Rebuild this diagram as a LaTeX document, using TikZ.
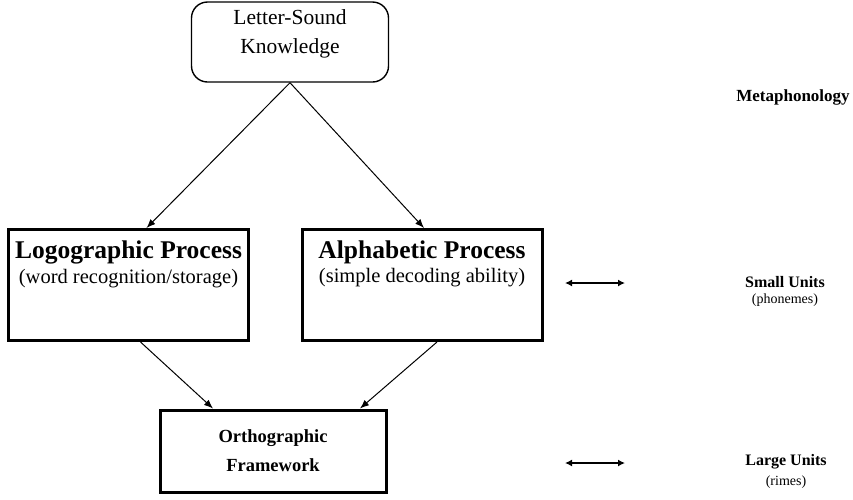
\documentclass[tikz,border=0pt]{standalone}
\usepackage{fontspec}
\setmainfont{Liberation Serif}
\usetikzlibrary{arrows.meta,positioning}
\begin{document}
\begin{tikzpicture}[x=1pt,y=-1pt,
    procbox/.style={draw, line width=3pt, minimum width=240pt, minimum height=111pt, inner sep=0pt},
    ttl/.style={font=\fontsize{25.5}{27}\selectfont\bfseries, inner sep=0pt},
    sub/.style={font=\fontsize{20.5}{22}\selectfont, inner sep=0pt},
    side/.style={font=\fontsize{16}{18}\selectfont\bfseries, inner sep=0pt},
    sidesub/.style={font=\fontsize{14}{16}\selectfont, inner sep=0pt},
    link/.style={line width=1pt, -{Latex[length=9pt,width=7pt]}},
    both/.style={line width=1.4pt, {Latex[length=7pt,width=7pt]}-{Latex[length=7pt,width=7pt]}}]
  \useasboundingbox (0,0) rectangle (853,499);
  %%% top of the diagram
  \node[draw, line width=1.4pt, rounded corners=16pt, minimum width=197pt, minimum height=80pt] (lsk) at (290,42) {};
  \node[align=center, inner sep=0pt, font=\fontsize{21.5}{29}\selectfont] (lskt) at (290,34) {Letter-Sound\\Knowledge};
  %%% the two processes
  \node[procbox] (logo) at (128.5,285) {};
  \node[ttl, below=13pt of logo.north] (logot) {Logographic Process};
  \node[sub, below=4pt of logot] (logos) {(word recognition/storage)};
  \node[procbox] (alpha) at (422,285) {};
  \node[ttl, below=13pt of alpha.north] (alphat) {Alphabetic Process};
  \node[sub, below=4pt of alphat] (alphas) {(simple decoding ability)};
  %%% bottom box
  \node[draw, line width=3pt, minimum width=226pt, minimum height=82pt, align=center,
        font=\fontsize{18.5}{29}\selectfont\bfseries] (ortho) at (273,451) {Orthographic\\Framework};
  % arrows between boxes
  \draw[link] (lsk.south) -- ([xshift=18pt]logo.north);
  \draw[link] (lsk.south) -- ([xshift=2pt]alpha.north);
  \draw[link] ([xshift=12pt]logo.south) -- ([xshift=-60pt]ortho.north);
  \draw[link] ([xshift=15pt]alpha.south) -- ([xshift=87pt]ortho.north);
  %%% labels on the right
  \node[side, font=\fontsize{17}{19}\selectfont\bfseries] (meta) at (793,97) {Metaphonology};
  \node[side] (small) at (785,282) {Small Units};
  \node[sidesub, below=6pt of small] (smalls) {(phonemes)};
  \node[side] (large) at (786,462) {Large Units};
  \node[sidesub, below=6pt of large] (larges) {(rimes)};
  \coordinate (s1) at (565,283);
  \coordinate (s2) at (625,283);
  \coordinate (l1) at (565,463);
  \coordinate (l2) at (625,463);
  \draw[both] (s1) -- (s2);
  \draw[both] (l1) -- (l2);
\end{tikzpicture}
\end{document}
